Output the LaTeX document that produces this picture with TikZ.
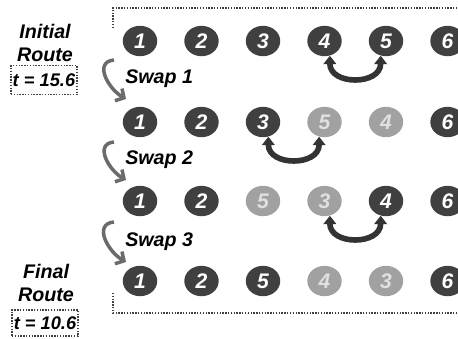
\documentclass[tikz,border=0pt]{standalone}
\usepackage{fontspec}
\setsansfont{Liberation Sans}
\usepackage{xcolor}
\usepackage{tikz}
\usetikzlibrary{arrows.meta,shapes.geometric}
\colorlet{routedark}{black!75}
\colorlet{routelight}{black!37}
\colorlet{numdark}{white}
\colorlet{numlight}{white!88!black}
\tikzset{
  stop/.style={
    ellipse, fill=route#1, text=num#1,
    minimum width=0.86cm, minimum height=0.76cm, inner sep=0pt,
    font=\fontsize{15}{17}\selectfont\sffamily\bfseries\itshape
  },
  routelabel/.style={
    align=center, inner sep=0pt,
    font=\fontsize{14}{16.7}\selectfont\sffamily\bfseries\itshape
  },
  timebox/.style={
    rectangle, draw=black!75, dash pattern=on 1pt off 1pt, line width=1.1pt,
    minimum width=1.65cm, minimum height=0.72cm, inner sep=1pt,
    font=\fontsize{13}{15}\selectfont\sffamily\bfseries\itshape
  },
  swaplabel/.style={
    anchor=base west, inner sep=0pt,
    font=\fontsize{14}{16}\selectfont\sffamily\bfseries\itshape
  },
  swaparc/.style={{Triangle[width=9pt,length=6pt]}-{Triangle[width=9pt,length=6pt]},
    line width=4pt, color=black!80},
  stepturn/.style={-{Straight Barb[length=4.5pt,width=10pt]}, line width=2.5pt, color=black!58},
  routeframe/.style={draw=black!75, dash pattern=on 1pt off 1pt, line width=1.1pt},
}

\begin{document}
\begin{tikzpicture}[x=0.025cm, y=0.025cm]
  \useasboundingbox (0,0) rectangle (458,338);

  % Route rows
  \foreach \r/\yy/\route in {
      1/297/{1/dark,2/dark,3/dark,4/dark,5/dark,6/dark},
      2/216/{1/dark,2/dark,3/dark,5/light,4/light,6/dark},
      3/137/{1/dark,2/dark,5/light,3/light,4/dark,6/dark},
      4/57/{1/dark,2/dark,5/dark,4/light,3/light,6/dark}}
    \foreach \n/\s [count=\c] in \route
      \node[stop=\s] (r\r c\c) at ({140+61.5*(\c-1)},\yy) {\n};

  % Route labels
  \node[routelabel] (initial) at (45,295) {Initial\\Route};
  \node[timebox] (tinit) at (44,258) {t = 15.6};
  \node[routelabel] (final) at (46,55) {Final\\Route};
  \node[timebox, minimum height=0.66cm] (tfinal) at (45,15) {t = 10.6};

  % Frame
  \draw[routeframe] (113,310) -- (113,330) -- (460,330);
  \draw[routeframe] (113,45) -- (113,25) -- (460,25);

  % Swaps
  \node[swaplabel] (swap1) at (125,255) {Swap 1};
  \node[swaplabel] (swap2) at (125,173.5) {Swap 2};
  \node[swaplabel] (swap3) at (125,92) {Swap 3};

  \coordinate (turn1a) at (114,278);
  \coordinate (turn1b) at (126,239);
  \coordinate (turn2a) at (114,196);
  \coordinate (turn2b) at (126,158);
  \coordinate (turn3a) at (114,116);
  \coordinate (turn3b) at (126,76);
  \draw[stepturn] (turn1a) to[out=185,in=150,looseness=1.3] (turn1b);
  \draw[stepturn] (turn2a) to[out=185,in=150,looseness=1.3] (turn2b);
  \draw[stepturn] (turn3a) to[out=185,in=150,looseness=1.3] (turn3b);

  \draw[swaparc] (r1c4.-70) to[out=-90,in=-90,looseness=1.5] (r1c5.-110);
  \draw[swaparc] (r2c3.-70) to[out=-90,in=-90,looseness=1.5] (r2c4.-110);
  \draw[swaparc] (r3c4.-70) to[out=-90,in=-90,looseness=1.5] (r3c5.-110);

\end{tikzpicture}
\end{document}
